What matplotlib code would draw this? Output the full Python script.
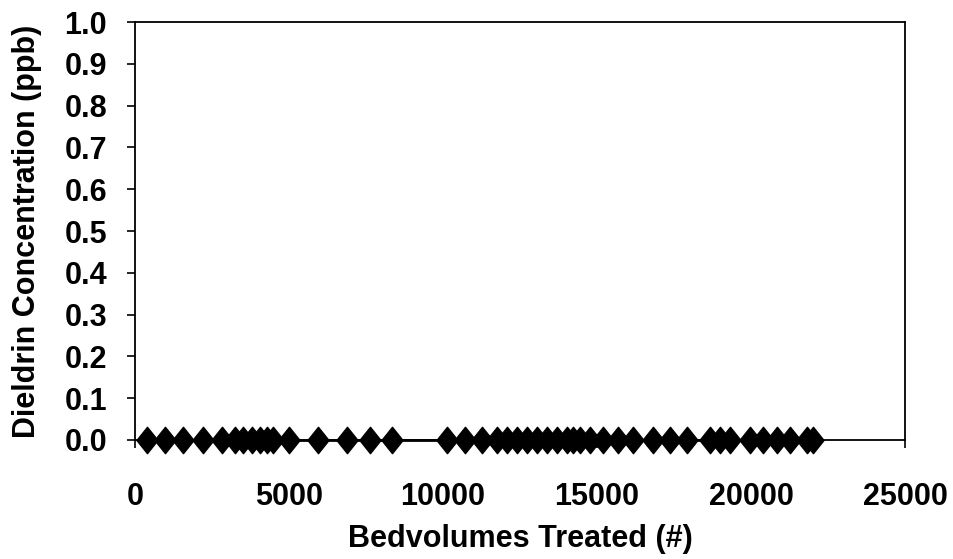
import matplotlib
matplotlib.use("Agg")
import matplotlib.pyplot as plt
from matplotlib.path import Path

bedvolumes = [380, 974, 1558, 2198, 2815, 3247, 3517, 3788, 4058, 4275, 4491,
              5000, 5942, 6883, 7630, 8344, 10120, 10714, 11256, 11743, 12068,
              12393, 12717, 13042, 13367, 13691, 14016, 14232, 14448, 14773,
              15195, 15682, 16169, 16818, 17370, 17912, 18669, 18993, 19318,
              19967, 20390, 20844, 21266, 21818, 22013]
concentration = [0.0] * len(bedvolumes)

x_ticks = [0, 5000, 10000, 15000, 20000, 25000]
y_ticks = [0.0, 0.1, 0.2, 0.3, 0.4, 0.5, 0.6, 0.7, 0.8, 0.9, 1.0]

plt.rcParams['font.family'] = ['Liberation Sans', 'DejaVu Sans']

fig = plt.figure(figsize=(9.54, 5.59), dpi=100)
ax = fig.add_axes([0.1415, 0.2129, 0.8071, 0.7477])

diamond = Path([(0, 1), (0.8, 0), (0, -1), (-0.8, 0), (0, 1)],
               [Path.MOVETO, Path.LINETO, Path.LINETO, Path.LINETO, Path.CLOSEPOLY])

ax.plot(bedvolumes, concentration, color='black', linewidth=2,
        marker=diamond, markersize=19, markerfacecolor='black',
        markeredgecolor='black', clip_on=False, zorder=5)

ax.set_xlim(0, 25000)
ax.set_ylim(0, 1.0)
ax.set_xticks(x_ticks)
ax.set_yticks(y_ticks)
ax.set_xticklabels([str(v) for v in x_ticks])
ax.set_yticklabels([f"{v:.1f}" for v in y_ticks])

for s in ax.spines.values():
    s.set_linewidth(1.3)
    s.set_color('black')

ax.tick_params(axis='y', direction='out', length=6, width=1.2, pad=14)
ax.tick_params(axis='x', direction='out', length=6, width=1.2, pad=24)
for lbl in ax.get_xticklabels() + ax.get_yticklabels():
    lbl.set_fontweight('bold')
    lbl.set_fontsize(22)

ax.set_xlabel("Bedvolumes Treated (#)", fontsize=22, fontweight='bold',
              labelpad=9)
ax.set_ylabel("Dieldrin Concentration (ppb)", fontsize=22, fontweight='bold',
              labelpad=16)

fig.savefig("out.png", dpi=100)
